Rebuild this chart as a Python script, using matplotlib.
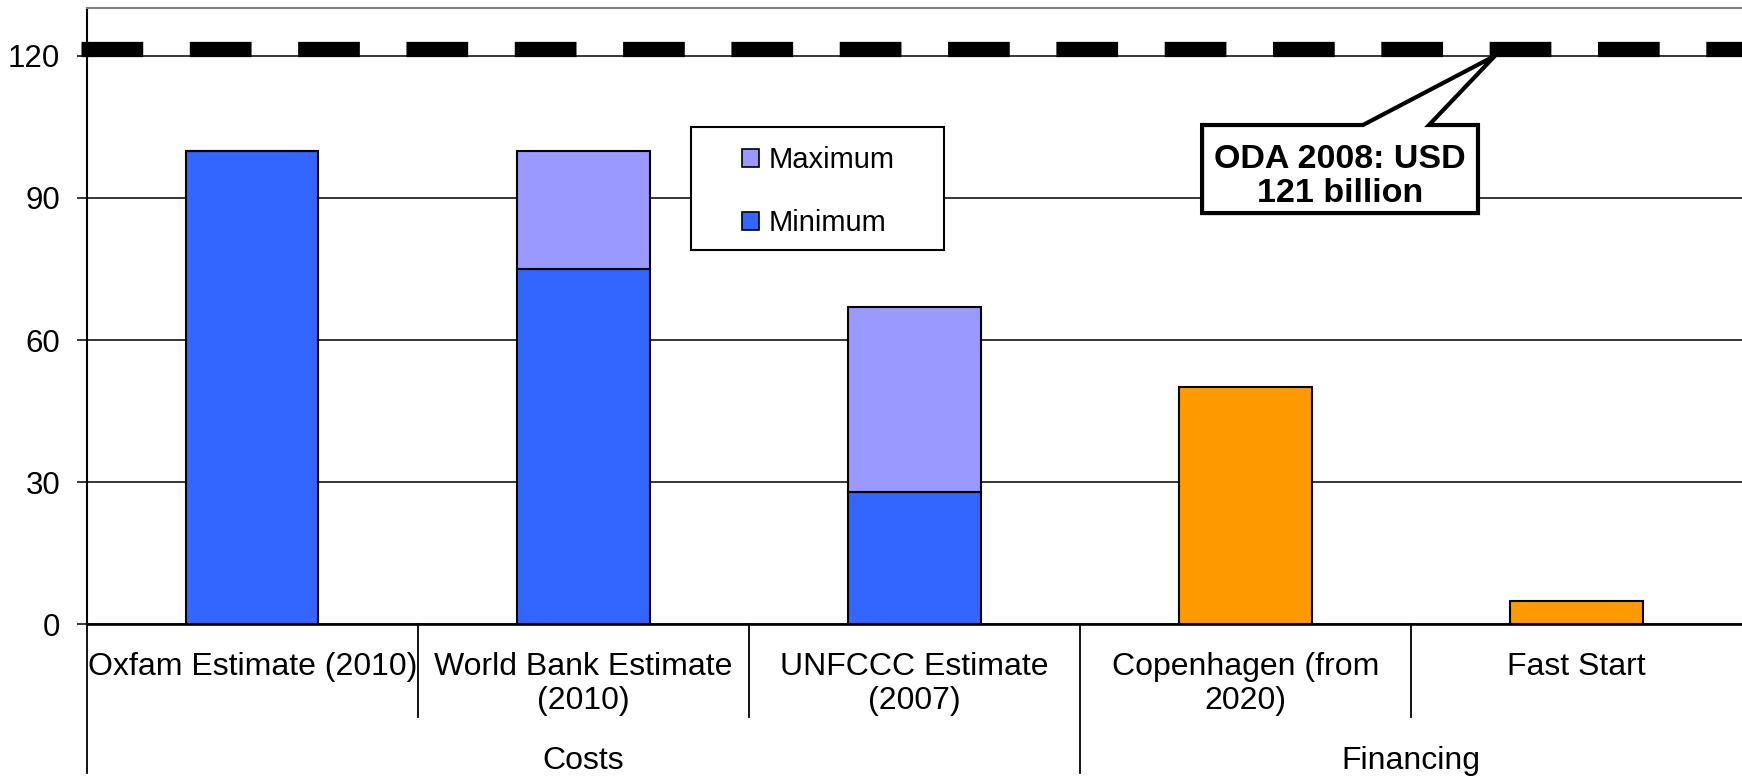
import numpy as np
import matplotlib.pyplot as plt
from matplotlib import transforms
from matplotlib.patches import Rectangle, Polygon, Patch

plt.rcParams['font.family'] = ['Liberation Sans', 'DejaVu Sans']

# values (USD billion per year)
categories = ['Oxfam Estimate (2010)', 'World Bank Estimate\n(2010)',
              'UNFCCC Estimate\n(2007)', 'Copenhagen (from\n2020)', 'Fast Start']
groups = ['Costs', 'Financing']
group_sizes = [3, 2]
cost_min = [100, 75, 28]
cost_max = [100, 100, 67]
financing = [50, 5]
oda_2008 = 121.5
oda_text = 'ODA 2008: USD\n121 billion'
yticks = [0, 30, 60, 90, 120]

BLUE = '#3366FF'
LILAC = '#9999FF'
ORANGE = '#FF9900'


fig = plt.figure(figsize=(17.42, 7.77), dpi=100)
ax = fig.add_axes([0.0498, 0.1963, 0.9502, 0.793])

x = np.arange(len(categories))
n_cost = len(cost_min)
xc, xf = x[:n_cost], x[n_cost:]
extra = np.array(cost_max) - np.array(cost_min)
w = 0.4

ax.bar(xc, cost_min, w, color=BLUE, edgecolor='black', linewidth=1.5, zorder=3)
ax.bar(xc, extra, w, bottom=cost_min, color=LILAC, edgecolor='black', linewidth=1.5, zorder=3)
ax.bar(xf, financing, w, color=ORANGE, edgecolor='black', linewidth=1.5, zorder=3)

ax.set_xlim(-0.5, len(categories) - 0.5)
ax.set_ylim(0, 130)
ax.set_yticks(yticks)
ax.set_xticks([])
ax.tick_params(axis='y', labelsize=22.5, length=7, width=1.1, direction='out', pad=12, color='black')
ax.yaxis.grid(True, color='black', linewidth=1.1, zorder=1)
ax.set_axisbelow(True)

ax.spines['right'].set_visible(False)
ax.spines['top'].set_color('#808080')
ax.spines['top'].set_linewidth(1.5)
ax.spines['left'].set_linewidth(1.5)
ax.spines['bottom'].set_linewidth(1.9)

# ODA reference line (thick dashes)
ax.plot([-0.518, len(categories) - 0.5], [oda_2008, oda_2008], color='black', lw=11,
        linestyle=(0, (4.04, 3.05)), dash_capstyle='butt', clip_on=False, zorder=4)

# category labels and divider lines below the axis
trans = transforms.blended_transform_factory(ax.transData, ax.transAxes)
for i, lab in enumerate(categories):
    ax.text(i, -0.044, lab, transform=trans, ha='center', va='top', fontsize=23,
            linespacing=1.2)

start = 0
for g, size in zip(groups, group_sizes):
    left = start - 0.5
    ax.text(left + size / 2, -0.197, g, transform=trans, ha='center', va='top', fontsize=23)
    ax.plot([left, left], [0, -0.241], transform=trans, color='black', lw=1.3, clip_on=False)
    for k in range(1, size):
        ax.plot([left + k, left + k], [0, -0.15], transform=trans, color='black', lw=1.3,
                clip_on=False)
    start += size

# legend with its own box
ax.add_patch(Rectangle((0.365, 0.6078), 0.1529, 0.2002, transform=ax.transAxes,
                       facecolor='white', edgecolor='black', lw=1.5, zorder=4))
handles = [Patch(facecolor=LILAC, edgecolor='black', lw=1.2, label='Maximum'),
           Patch(facecolor=BLUE, edgecolor='black', lw=1.2, label='Minimum')]
leg = ax.legend(handles=handles, loc='center', bbox_to_anchor=(0.4418, 0.702),
                frameon=False, fontsize=21, handlelength=0.6, handleheight=0.6,
                handletextpad=0.3, labelspacing=1.2)
leg.set_zorder(5)

# callout box for the ODA line
callout = [(0.6738, 0.8106), (0.7710, 0.8106), (0.8508, 0.923), (0.8109, 0.8106),
           (0.8405, 0.8106), (0.8405, 0.6677), (0.6738, 0.6677)]
ax.add_patch(Polygon(callout, closed=True, transform=ax.transAxes, facecolor='white',
                     edgecolor='black', lw=3, joinstyle='miter', zorder=5))
ax.text(0.7572, 0.727, oda_text, transform=ax.transAxes, ha='center', va='center',
        fontsize=24.5, fontweight='bold', linespacing=1.12, zorder=6)

fig.savefig('out.png', dpi=100)
